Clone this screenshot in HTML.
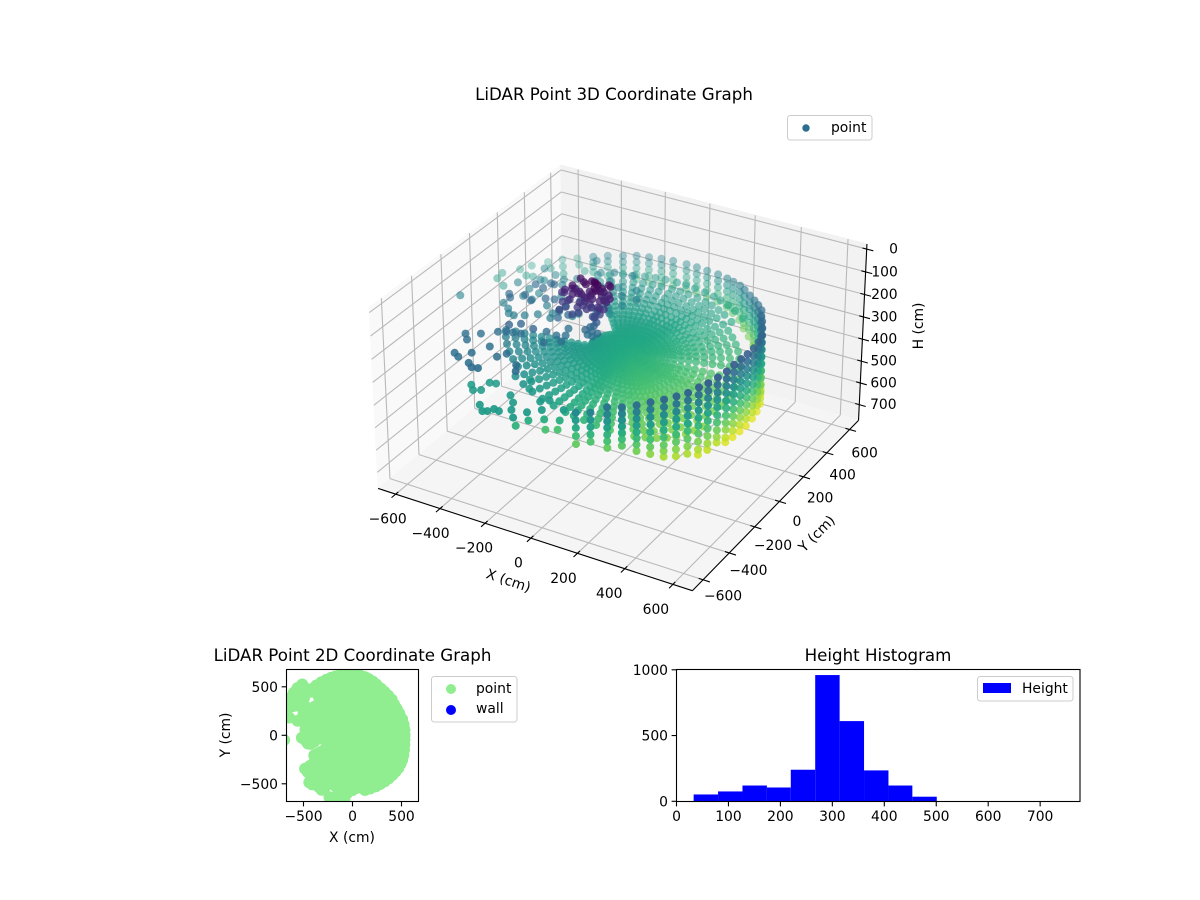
<!DOCTYPE html>
<html lang="en">
<head>
<meta charset="utf-8">
<title>LiDAR Point Graphs</title>
<style>
html,body{margin:0;padding:0;background:#fff;}
svg{display:block;}
text{font-family:"DejaVu Sans","Liberation Sans",sans-serif;fill:#000;}
</style>
</head>
<body>
<svg id="figure" xmlns="http://www.w3.org/2000/svg" width="1200" height="900" viewBox="0 0 1200 900">
<rect x="0" y="0" width="1200" height="900" fill="#fff"/>
<text x="614" y="100" font-size="16.67" text-anchor="middle">LiDAR Point 3D Coordinate Graph</text>
<g id="panes"></g>
<g id="grid3d"></g>
<g id="axes3d"></g>
<g id="points3d"></g>
<text font-size="13.89" text-anchor="middle" transform="translate(507,585) rotate(18.5)">X (cm)</text>
<text font-size="13.89" text-anchor="middle" transform="translate(820,537) rotate(-45)">Y (cm)</text>
<text font-size="13.89" text-anchor="middle" transform="translate(923,326) rotate(-90)">H (cm)</text>
<g>
<rect x="787.5" y="115.5" width="84.5" height="24.5" rx="2.8" fill="#fff" fill-opacity="0.8" stroke="#ccc" stroke-width="1"/>
<circle cx="806" cy="128" r="3.7" fill="#2c6e8f"/>
<text x="831" y="132" font-size="13.89">point</text>
</g>

<text x="352.5" y="661" font-size="16.67" text-anchor="middle">LiDAR Point 2D Coordinate Graph</text>
<clipPath id="clip2d"><rect x="286.5" y="669.5" width="132" height="132"/></clipPath>
<g id="points2d" clip-path="url(#clip2d)"></g>
<rect x="286.5" y="669.5" width="132" height="132" fill="none" stroke="#000" stroke-width="1.1"/>
<g id="axes2d"></g>
<text x="352" y="842" font-size="13.89" text-anchor="middle">X (cm)</text>
<text font-size="13.89" text-anchor="middle" transform="translate(230,735) rotate(-90)">Y (cm)</text>
<g>
<rect x="431.5" y="676.5" width="85.5" height="45.5" rx="2.8" fill="#fff" fill-opacity="0.8" stroke="#ccc" stroke-width="1"/>
<circle cx="451" cy="689" r="5" fill="#90ee90"/>
<text x="476" y="693" font-size="13.89">point</text>
<circle cx="451" cy="710" r="5" fill="#0000ff"/>
<text x="476" y="713" font-size="13.89">wall</text>
</g>

<text x="878" y="661" font-size="16.67" text-anchor="middle">Height Histogram</text>
<g id="bars"></g>
<rect x="676.5" y="669.5" width="403.5" height="132" fill="none" stroke="#000" stroke-width="1.1"/>
<g id="axesHist"></g>
<g>
<rect x="977.5" y="676.5" width="95.5" height="24.5" rx="2.8" fill="#fff" fill-opacity="0.8" stroke="#ccc" stroke-width="1"/>
<rect x="983" y="683" width="28" height="10" fill="#0000ff"/>
<text x="1022" y="693" font-size="13.89">Height</text>
</g>
</svg>
<script>
const spokeAngle=[0,6,12,18,25,31,37,42.6,48.4,53.8,59.2,65,69.5,74.1,78,82.8,87.8,92.2,96.4,101.6,106,110.6,115.1,120,125.5,130.8,136,142,148,154,160,166,172,178,184,190,196,202,208,214,220,226,232,238,244,250,256,262,268,274,278,282.7,288.2,294.3,299.6,304.9,309.9,314.9,319.6,324.1,328.8,333.2,338.4,344,349.5,355];
const ringRadius=[20,45,70,95,120,145,170,195,222,250,278,308,340,372,406,442,480,530];
const spokeHeights=[
[319,324,329,333,338,343,348,352,358,363,369,375,380,386,393,400],
[319,323,328,332,337,342,346,351,356,361,366,372,377,383,390,396],
[318,322,327,331,335,340,344,348,352,357,362,368,373,378,384,390],
[318,322,326,329,333,337,341,344,349,353,357,362,367,371,377,382],
[317,320,322,325,327,330,332,335,338,340,343,347,350,353,356,360],
[317,318,320,322,324,326,328,330,332,334,336,339,341,344,346,349],
[316,318,319,321,322,324,325,327,328,330,332,334,336,338,340,342],
[316,317,318,320,321,322,323,324,326,327,328,330,331,333,334,336],
[316,316,317,318,319,320,320,321,322,323,324,325,326,327,328,329],
[315,316,316,317,317,317,318,318,318,319,319,320,320,321,321,322],
[315,315,316,315,315,315,316,315,315,316,315,315,316,315,315,315,314,313],
[315,314,314,313,313,313,312,312,311,311,311,310,310,309,309,308,306,304],
[314,314,313,312,312,311,310,310,309,308,307,307,306,305,304,303,301,298],
[314,313,312,311,310,309,308,308,306,305,304,303,302,301,299,298,296,293],
[314,313,312,311,310,308,307,306,305,304,302,301,300,298,297,295,293,290],
[314,313,311,310,309,307,306,305,303,302,301,299,297,296,294,292,290,287],
[314,312,311,309,308,306,305,304,302,300,299,297,295,293,291,289,287,283],
[314,312,310,309,307,305,304,302,300,299,297,295,293,291,288,286,284,280],
[314,312,310,308,306,304,303,301,299,297,295,293,290,288,286,283,281,277],
[314,312,310,308,306,304,302,300,298,296,294,291,289,286,284,281,278,274],
[313,311,309,307,305,303,301,299,297,295,292,290,287,285,282,279,276,272],
[313,311,309,307,305,302,300,298,296,294,291,288,286,283,280,277,274,270],
[313,311,309,306,304,302,300,297,295,292,290,287,284,281,278,275,272,268],
[313,311,308,306,304,301,299,296,294,291,289,286,283,280,276,273,270,266],
[313,311,308,306,303,300,298,296,293,290,287,284,281,278,275,271,268,264],
[313,310,308,305,303,300,297,295,292,289,286,283,280,276,273,269,266,262],
[313,310,307,304,301],
[313,310,306,303,300],
[313,309,306,302,299],
[312,309,305,301,298],
[312,308,304,300,297],
[312,308,304,300,296],
[312,307,303,299,295],
[312,307,302,298,293],
[312,307,302,297,292],
[312,306,301,296,291],
[311,306,300,295,290],
[311,305,299,294,289],
[311,306,301,296,291,285,280,275,270,264,258,252,246,239,231,225],
[311,306,301,296,292,286,281,277,271,266,260,254,248,242,235,228],
[311,307,302,297,293,288,283,279,274,269,263,258,252,246,240,233],
[312,308,303,299,295,290,286,282,277,273,268,263,257,252,246,240],
[312,308,304,301,297,293,289,286,281,277,273,268,263,259,253,248],
[312,309,306,302,299,296,292,289,285,282,278,274,270,265,261,256],
[313,310,307,304,302,299,296,293,290,287,284,281,277,274,270,266,262],
[313,311,309,307,304,302,300,298,295,293,290,288,285,282,279,276,272],
[314,312,310,309,307,305,304,302,300,299,297,295,293,291,288,286,283],
[314,313,312,311,310,309,308,307,305,304,303,302,300,299,298,296,294],
[315,314,314,313,313,312,312,311,311,310,310,309,309,308,308,307,306],
[315,315,316,316,316,316,316,316,317,317,317,317,317,318,318,318,319],
[316,316,317,317,318,318,319,319,320,321,321,322,323,323,324,325,327],
[316,317,318,319,320,321,322,323,325,326,327,328,330,331,332,334,337],
[316,318,320,322,324,326,328,330,332,334,336,338,340,343,345,348,352],
[317,320,323,326,328,331,334,337,340,343,346,349,353,356,360,364,369],
[318,321,325,328,331,335,338,342,346,349,353,358,362,366,371,376,382],
[318,322,327,331,335,339,343,347,352,356,361,366,371,376,382,388,395],
[319,323,328,333,337,342,347,351,356,361,367,372,378,384,390,397,404],
[319,324,329,334,339,345,350,355,360,366,372,378,384,391,398,405,412],
[319,325,330,335,341,346,352,357,363,369,375,382,388,395,402,410,418],
[319,325,331,336,341,347,352,358,364,370,376,383,390,396,404,412,420],
[319,325,330,336,342,347,353,358,364,370,377,383,389,397,405,412,421],
[319,324,330,335,341,346,352,357,363,369,375,382,388,395,402,410,418],
[319,324,329,335,340,345,351,356,362,368,374,380,387,393,401,408,416],
[319,324,329,334,339,344,350,355,361,367,373,379,385,392,399,406],
[319,323,328,333,338,343,349,354,359,365,371,377,383,390,396,403],
[319,323,328,333,338,343,348,352,358,364,370,376,382,388,395,401]
];
const wallAngle=[0,6,12,18,25,31,37,42.6,48.4,53.8,59.2,65,69.5,74.1,78,82.8,87.8,92.2,96.4,101.6,106,110.6,115.1,120,125.5,130.8,282.7,288.2,294.3,299.6,304.9,309.9,314.9,319.6,324.1,328.8,333.2,338.4,344,349.5,355];
const wallRadius=[530,530,530,530,525,525,528,540,545,552,560,575,590,600,610,618,622,625,628,630,630,630,630,630,630,630,575,575,575,575,575,575,575,575,575,570,565,555,545,535,530];
const wallHeights=[
[168,199,231,262,294,325,356,388,420,450,482],
[172,203,235,266,297,329,360,391,422,452,480],
[175,206,238,269,300,331,362,393,424,453,480],
[178,210,241,272,303,334,365,396,426,455,478],
[182,213,244,275,306,337,368,399,429,456,475],
[184,216,247,278,309,340,371,402,432,470],
[190,221,252,283,314,345,376,406,436,455],
[196,227,258,289,320,351,381,411,440],
[204,235,266,297,328,358,389,420],
[212,243,274,305,335,365,395,415],
[218,249,279,310,340,370,402],
[224,254,285,315,345,375,398],
[230,260,291,321,351,385],
[236,266,296,326,356,378],
[241,271,300,330,360,372],
[244,274,303,333,368],
[246,276,305,335,366],
[245,275,304,333,362],
[243,272,302,330,358],
[240,269,298,326,354],
[238,266,295,323,352],
[236,264,293,321,350],
[233,262,290,318,340],
[235,262,288,315],
[233,258,285,325],
[233,258,278,302],
[250,282,315,350,385],
[241,272,303,335,366],
[213,243,272,300,330,358,387],
[211,238,265,292,320,348,376],
[204,232,261,290,318,345,372,400],
[195,226,258,290,322,354,386,417],
[190,222,255,287,320,352,385,410,436],
[185,217,250,282,315,348,380,412,442],
[180,212,245,278,311,344,377,410,442],
[172,204,237,270,303,336,370,405,440,462],
[170,202,234,266,298,332,365,398,430,458],
[168,200,232,264,296,330,362,395,425,450],
[168,199,231,262,294,326,358,390,420,455,475],
[166,198,230,261,293,325,357,388,420,452,480],
[167,198,230,262,293,325,357,388,420,452,482]
];
const sparseX=[-698,-702,-709,-648,-664,-615,-640,-587,-599,-562,-561,-528,-495,-513,-480,-434,
-484,-455,-434,-441,-413,-386,-355,-329,-305,-353,-289,-270,-386,-360,-334,-304,-264,-359,-324,-228,-181,-151,-169,-142,-194,-195,-173,
-172,-289,-265,-288,-340,-314,-138,-174,-138,-56,-30,-235,-203,-187,-174,-151,-116,-82,-83,-58,-54,-20,-8,-1,38,45,49,
-449,-408,-440,-397,-516,-497,-478,-477,-455,-430,-394,-355,-401,-386,-356,-323,-264,-215,-310,-298,-237,
-504,-489,-474,-426,-452,-246,
-150,-200,-250,-300,-340,-280,-210,-350,-300,-230,-180,-250,-320,-380,-400,-150,-200,-120,-440,-360,-300,-130,-170,-270,-200,-130,-90,-380,-530,-500,-560,-480];
const sparseY=[-50,223,271,183,332,300,381,306,439,399,487,436,386,524,482,448,
-344,-379,-315,-486,-504,-454,-523,-544,-538,-381,-432,-395,-271,-256,-248,-240,-216,-235,-206,-180,-186,-169,-118,-216,-255,-449,-488,
-392,-486,-480,-547,-533,-562,-451,-525,-565,-509,-486,-639,-672,-663,-638,-642,-612,-655,-637,-598,-596,-557,-561,-565,-543,-539,-517,
102,91,11,-17,-25,-13,-37,-54,-85,-89,-68,-36,139,138,24,35,-28,-43,-2,-38,-81,
144,231,291,275,131,39,
150,200,250,300,220,160,120,130,80,60,170,330,380,300,220,250,310,200,60,40,30,120,90,400,420,330,260,450,300,220,150,60];
const sparseH=[235,290,290,290,290,290,290,290,290,290,290,290,290,290,290,290,
200,200,200,200,200,200,200,200,200,200,200,200,200,200,200,200,180,180,180,200,200,200,200,200,200,200,200,
285,285,285,285,285,285,285,285,285,285,285,285,285,285,285,285,285,285,330,285,320,285,320,360,360,320,285,
190,190,190,190,230,190,190,230,230,230,230,230,190,190,190,190,190,190,230,230,190,
245,245,245,245,245,245,
235,240,235,230,235,240,235,230,235,240,235,230,235,240,235,230,235,240,235,230,235,240,235,230,235,240,235,230,235,240,235,230];
const poleX=[-191,-138,-94,-76,-70,-199,-226,-253,-160,-178,-123,-37,-40,-94,-141,-104,-222,-219,-59,-87,-153,-74,-76,-64,-83,-70,-146,-135,-71,-87,-189,-100,-43,-149,-83,-66,
-170,-120,-110,-60,-85,-180,-205,-235,-145,-160,-105,-50,-55,-110,-125,-90,-205,-200,-75,-70,-135,-90,-90,-50,-100,-55,-130,-120,-85,-100];
const poleY=[11,5,-28,26,-23,-36,-47,-24,-49,-72,-37,-35,-54,-67,-82,-92,-71,-100,-72,-77,-115,-71,-102,-118,-122,-68,-89,-55,-37,-53,-74,-76,-69,-22,-75,-60,
0,-5,-15,10,-10,-50,-30,-35,-60,-60,-50,-20,-45,-55,-70,-80,-60,-85,-60,-90,-100,-60,-90,-105,-110,-80,-75,-65,-25,-40];
const poleH=[50,45,33,55,60,60,80,110,70,75,65,75,80,75,95,110,120,140,130,145,135,170,195,205,200,105,115,85,70,45,100,95,105,48,185,80,
55,40,36,50,55,62,78,100,72,72,62,70,82,72,92,105,115,130,125,135,130,160,185,195,190,100,110,80,60,42];
const xTicks=[-600,-400,-200,0,200,400,600];
const yTicks=[-600,-400,-200,0,200,400,600];
const hTicks=[0,100,200,300,400,500,600,700];
const ticks2d=[-500,0,500];
const histEdges=[33,80,127,174,220,267,314,361,408,454,501];
const histCounts=[52,75,120,105,240,960,610,235,120,35];
const histXTicks=[0,100,200,300,400,500,600,700];
const histYTicks=[0,500,1000];

const SVGNS='http://www.w3.org/2000/svg';
const XYLIM=680,HTOP=-22,HBOT=773;
const BX=1.249,BZ=0.716;
function view(x,y,h){
  const dx=(x+XYLIM)/(2*XYLIM)-0.5,dy=(y+XYLIM)/(2*XYLIM)-0.5,dz=(HBOT-h)/(HBOT-HTOP)-0.5;
  const X=dx*BX,Y=dy*BX,Z=dz*BZ;
  const xv=0.866*X+0.5*Y,yv=-0.25*X+0.433*Y+0.866*Z,zv=0.433*X-0.75*Y+0.5*Z;
  return {px:623+2865*xv/(10-zv),py:366-2880*yv/(10-zv),depth:zv};
}
function mk(parent,tag,attrs,name,text){
  const el=document.createElementNS(SVGNS,tag);
  for(const k in attrs)el.setAttribute(k,attrs[k]);
  
  
  if(text!==undefined)el.textContent=text;
  parent.appendChild(el);
  return el;
}
function seg(parent,a,b,name,color,w){
  return mk(parent,'line',{x1:a.px,y1:a.py,x2:b.px,y2:b.py,stroke:color,'stroke-width':w},name);
}
function poly(parent,cs,fill,name){
  const pts=cs.map(c=>{const v=view(c[0],c[1],c[2]);return v.px+','+v.py;}).join(' ');
  return mk(parent,'polygon',{points:pts,fill:fill,stroke:fill,'stroke-width':1},name);
}
function fmt(v){return v<0?'\u2212'+Math.abs(v):String(v);}
const L=XYLIM;
const panes=document.getElementById('panes');
poly(panes,[[-L,-L,HBOT],[-L,L,HBOT],[-L,L,HTOP],[-L,-L,HTOP]],'#f9f9f9','pane-left');
poly(panes,[[-L,L,HBOT],[L,L,HBOT],[L,L,HTOP],[-L,L,HTOP]],'#f2f2f2','pane-back');
poly(panes,[[-L,-L,HBOT],[L,-L,HBOT],[L,L,HBOT],[-L,L,HBOT]],'#f5f5f5','pane-floor');
const grid=document.getElementById('grid3d');
const GC='#b9b9b9';
xTicks.forEach(t=>{
  seg(grid,view(t,-L,HBOT),view(t,L,HBOT),'x-gridline-floor',GC,1.1);
  seg(grid,view(t,L,HBOT),view(t,L,HTOP),'x-gridline-wall',GC,1.1);
});
yTicks.forEach(t=>{
  seg(grid,view(L,t,HBOT),view(-L,t,HBOT),'y-gridline-floor',GC,1.1);
  seg(grid,view(-L,t,HBOT),view(-L,t,HTOP),'y-gridline-wall',GC,1.1);
});
hTicks.forEach(t=>{
  seg(grid,view(-L,-L,t),view(-L,L,t),'h-gridline-left',GC,1.1);
  seg(grid,view(-L,L,t),view(L,L,t),'h-gridline-back',GC,1.1);
});
const ax=document.getElementById('axes3d');
seg(ax,view(-L,-L,HBOT),view(L,-L,HBOT),'x-axis-line','#000',1.1);
seg(ax,view(L,-L,HBOT),view(L,L,HBOT),'y-axis-line','#000',1.1);
seg(ax,view(L,L,HBOT),view(L,L,HTOP),'h-axis-line','#000',1.1);
xTicks.forEach((t,i)=>{
  seg(ax,view(t,-L+18,HBOT),view(t,-L-28,HBOT),'x-tick','#000',1.1);
  const p=view(t,-L,HBOT);
  mk(ax,'text',{x:p.px-12.5-t*0.0075,y:p.py+29.5,'font-size':13.89,'text-anchor':'middle'},'x-tick-label',fmt(t));
});
yTicks.forEach((t,i)=>{
  seg(ax,view(L-18,t,HBOT),view(L+28,t,HBOT),'y-tick','#000',1.1);
  const p=view(L,t,HBOT);
  mk(ax,'text',{x:p.px+17.5-t*0.0042,y:p.py+24.5+t*0.006,'font-size':13.89,'text-anchor':'middle'},'y-tick-label',fmt(t));
});
hTicks.forEach((t,i)=>{
  seg(ax,view(L-18,L,t),view(L+28,L,t),'h-tick','#000',1.1);
  const p=view(L,L,t);
  mk(ax,'text',{x:898-t*0.002,y:p.py+4.5,'font-size':13.89,'text-anchor':'end'},'h-tick-label',String(t));
});

const viridis=[[68,1,84],[72,36,117],[65,68,135],[53,95,141],[42,120,142],[33,145,140],[34,168,132],[68,191,112],[122,209,81],[189,223,38],[253,231,37]];
function colorOf(h){
  const t=Math.max(0,Math.min(1,(h-30)/470))*10;
  const i=Math.min(9,Math.floor(t)),f=t-i,a=viridis[i],b=viridis[i+1];
  return 'rgb('+Math.round(a[0]+(b[0]-a[0])*f)+','+Math.round(a[1]+(b[1]-a[1])*f)+','+Math.round(a[2]+(b[2]-a[2])*f)+')';
}
const pts=[];
function addPolar(deg,r,h){
  const a=deg*Math.PI/180;
  pts.push({x:r*Math.cos(a),y:r*Math.sin(a),h:h});
}
spokeHeights.forEach((row,k)=>{row.forEach((h,i)=>addPolar(spokeAngle[k],ringRadius[i],h));});
wallHeights.forEach((col,k)=>{col.forEach(h=>addPolar(wallAngle[k],wallRadius[k],h));});
sparseX.forEach((x,i)=>pts.push({x:x,y:sparseY[i],h:sparseH[i]}));
poleX.forEach((x,i)=>pts.push({x:x,y:poleY[i],h:poleH[i]}));
pts.forEach(p=>{p.v=view(p.x,p.y,p.h);});
let dMin=Infinity,dMax=-Infinity;
pts.forEach(p=>{if(p.v.depth<dMin)dMin=p.v.depth;if(p.v.depth>dMax)dMax=p.v.depth;});
pts.sort((a,b)=>a.v.depth-b.v.depth);
const g3=document.getElementById('points3d');
const g2=document.getElementById('points2d');
const fx2=x=>352.5+x*0.098,fy2=y=>735.3-y*0.097;
pts.forEach(p=>{
  const alpha=0.3+0.7*Math.pow((p.v.depth-dMin)/(dMax-dMin),0.75);
  const c=document.createElementNS(SVGNS,'circle');
  c.setAttribute('cx',p.v.px.toFixed(1));
  c.setAttribute('cy',p.v.py.toFixed(1));
  c.setAttribute('r','4');
  c.setAttribute('fill',colorOf(p.h));
  c.setAttribute('fill-opacity',alpha.toFixed(2));
  
  
  g3.appendChild(c);
  const d=document.createElementNS(SVGNS,'circle');
  d.setAttribute('cx',fx2(p.x).toFixed(1));
  d.setAttribute('cy',fy2(p.y).toFixed(1));
  d.setAttribute('r','6');
  d.setAttribute('fill','#90ee90');
  
  
  g2.appendChild(d);
});
const a2=document.getElementById('axes2d');
ticks2d.forEach(t=>{
  const px=fx2(t),py=fy2(t);
  mk(a2,'line',{x1:px,y1:801.5,x2:px,y2:806.4,stroke:'#000','stroke-width':1.1},'x-tick-2d');
  mk(a2,'text',{x:px,y:821,'font-size':13.89,'text-anchor':'middle'},'x-tick-label-2d',fmt(t));
  mk(a2,'line',{x1:281.6,y1:py,x2:286.5,y2:py,stroke:'#000','stroke-width':1.1},'y-tick-2d');
  mk(a2,'text',{x:278,y:py+5,'font-size':13.89,'text-anchor':'end'},'y-tick-label-2d',fmt(t));
});
const hx=v=>676.5+v*0.5195,hy=v=>801.3-v*0.1315;
const bars=document.getElementById('bars');
histCounts.forEach((n,i)=>{
  mk(bars,'rect',{x:hx(histEdges[i]),y:hy(n),width:hx(histEdges[i+1])-hx(histEdges[i]),height:801.3-hy(n),fill:'#0000ff'},'histogram-bar');
});
const ah=document.getElementById('axesHist');
histXTicks.forEach(t=>{
  mk(ah,'line',{x1:hx(t),y1:801.5,x2:hx(t),y2:806.4,stroke:'#000','stroke-width':1.1},'x-tick-histogram');
  mk(ah,'text',{x:hx(t),y:821,'font-size':13.89,'text-anchor':'middle'},'x-tick-label-histogram',String(t));
});
histYTicks.forEach(t=>{
  mk(ah,'line',{x1:671.6,y1:hy(t),x2:676.5,y2:hy(t),stroke:'#000','stroke-width':1.1},'y-tick-histogram');
  mk(ah,'text',{x:668,y:hy(t)+5,'font-size':13.89,'text-anchor':'end'},'y-tick-label-histogram',String(t));
});
</script>
</body>
</html>
